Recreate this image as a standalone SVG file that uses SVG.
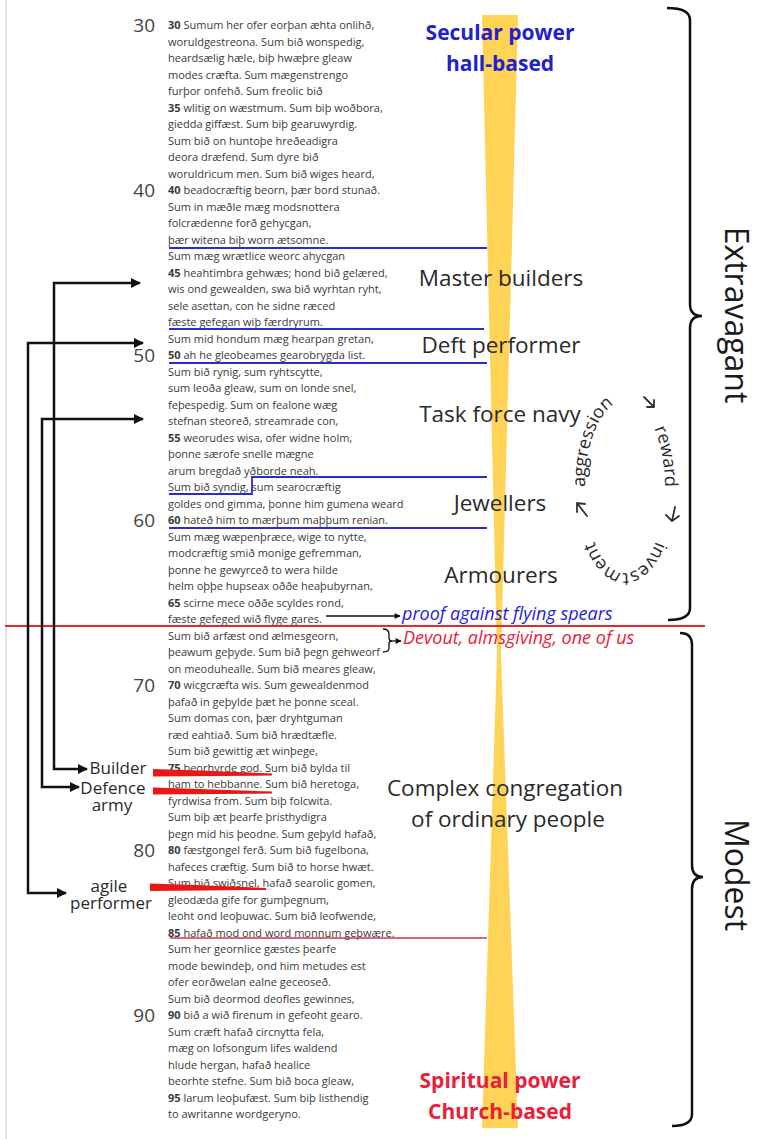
<svg xmlns="http://www.w3.org/2000/svg" width="763" height="1139" viewBox="0 0 763 1139">
<defs>
<style>
.poem{font-family:"Open Sans","Noto Sans",sans-serif;font-size:11px;fill:#3a3a3a}
.poem .n{font-weight:bold}
.num{font-family:"Open Sans","Noto Sans",sans-serif;font-size:19px;fill:#444;text-anchor:end}
.lab{font-family:"Open Sans","Noto Sans",sans-serif;font-size:22.5px;fill:#2a2a2a;text-anchor:middle}
.llab{font-family:"Open Sans","Noto Sans",sans-serif;font-size:17px;fill:#2a2a2a;text-anchor:middle}
.big{font-family:"Open Sans","Noto Sans",sans-serif;font-size:32px;fill:#1a1a1a;text-anchor:middle}
.head{font-family:"Open Sans","Noto Sans",sans-serif;font-size:21px;font-weight:bold;text-anchor:middle}
.it{font-family:"Open Sans","Noto Sans",sans-serif;font-size:18px;font-style:italic}
.cyc{font-family:"Open Sans","Noto Sans",sans-serif;font-size:18px;fill:#2a2a2a}
.conn{fill:none;stroke:#111;stroke-width:2.5}
.thin{fill:none;stroke:#111;stroke-width:1.3}
.brace{fill:none;stroke:#111;stroke-width:2.5}
.blue{fill:none;stroke:#2b2bd6;stroke-width:1.8}
.cyca{fill:none;stroke:#333;stroke-width:1.8;stroke-linecap:round;stroke-linejoin:round}
</style>
<marker id="ah" viewBox="0 0 10 10" refX="9" refY="5" markerWidth="13" markerHeight="10" markerUnits="userSpaceOnUse" orient="auto-start-reverse"><path d="M0,0 L10,5 L0,10 z" fill="#111"/></marker>
<marker id="ahs" viewBox="0 0 10 10" refX="9" refY="5" markerWidth="7" markerHeight="6" markerUnits="userSpaceOnUse" orient="auto"><path d="M0,0 L10,5 L0,10 z" fill="#111"/></marker>
<path id="ell" d="M585,487 A40,86 0 0 1 665,487 A40,86 0 0 1 585,487"/>
</defs>
<rect width="763" height="1139" fill="#fff"/>
<line x1="6" y1="0" x2="6" y2="1139" stroke="#dcdcdc" stroke-width="1.5"/>
<polygon id="band" points="482,15 518,15 501,655 518,1128 482,1128 497,655" fill="#FFCB38" opacity="0.85"/>

<g id="line-numbers">
<text class="num" x="155" y="32">30</text>
<text class="num" x="155" y="197">40</text>
<text class="num" x="155" y="362">50</text>
<text class="num" x="155" y="527">60</text>
<text class="num" x="155" y="692">70</text>
<text class="num" x="155" y="857">80</text>
<text class="num" x="155" y="1022">90</text>
</g>

<g id="poem">
<text class="poem" x="168" y="29">
<tspan x="168" y="29"><tspan class="n">30</tspan> Sumum her ofer eorþan æhta onlihð,</tspan>
<tspan x="168" y="45.5">woruldgestreona. Sum bið wonspedig,</tspan>
<tspan x="168" y="62">heardsælig hæle, biþ hwæþre gleaw</tspan>
<tspan x="168" y="78.5">modes cræfta. Sum mægenstrengo</tspan>
<tspan x="168" y="95">furþor onfehð. Sum freolic bið</tspan>
<tspan x="168" y="111.5"><tspan class="n">35</tspan> wlitig on wæstmum. Sum biþ woðbora,</tspan>
<tspan x="168" y="128">giedda giffæst. Sum biþ gearuwyrdig.</tspan>
<tspan x="168" y="144.5">Sum bið on huntoþe hreðeadigra</tspan>
<tspan x="168" y="161">deora dræfend. Sum dyre bið</tspan>
<tspan x="168" y="177.5">woruldricum men. Sum bið wiges heard,</tspan>
<tspan x="168" y="194"><tspan class="n">40</tspan> beadocræftig beorn, þær bord stunað.</tspan>
<tspan x="168" y="210.5">Sum in mæðle mæg modsnottera</tspan>
<tspan x="168" y="227">folcrædenne forð gehycgan,</tspan>
<tspan x="168" y="243.5">þær witena biþ worn ætsomne.</tspan>
<tspan x="168" y="260">Sum mæg wrætlice weorc ahycgan</tspan>
<tspan x="168" y="276.5"><tspan class="n">45</tspan> heahtimbra gehwæs; hond bið gelæred,</tspan>
<tspan x="168" y="293">wis ond gewealden, swa bið wyrhtan ryht,</tspan>
<tspan x="168" y="309.5">sele asettan, con he sidne ræced</tspan>
<tspan x="168" y="326">fæste gefegan wiþ færdryrum.</tspan>
<tspan x="168" y="342.5">Sum mid hondum mæg hearpan gretan,</tspan>
<tspan x="168" y="359"><tspan class="n">50</tspan> ah he gleobeames gearobrygda list.</tspan>
<tspan x="168" y="375.5">Sum bið rynig, sum ryhtscytte,</tspan>
<tspan x="168" y="392">sum leoða gleaw, sum on londe snel,</tspan>
<tspan x="168" y="408.5">feþespedig. Sum on fealone wæg</tspan>
<tspan x="168" y="425">stefnan steoreð, streamrade con,</tspan>
<tspan x="168" y="441.5"><tspan class="n">55</tspan> weorudes wisa, ofer widne holm,</tspan>
<tspan x="168" y="458">þonne særofe snelle mægne</tspan>
<tspan x="168" y="474.5">arum bregdað yðborde neah.</tspan>
<tspan x="168" y="491">Sum bið syndig, sum searocræftig</tspan>
<tspan x="168" y="507.5">goldes ond gimma, þonne him gumena weard</tspan>
<tspan x="168" y="524"><tspan class="n">60</tspan> hateð him to mærþum maþþum renian.</tspan>
<tspan x="168" y="540.5">Sum mæg wæpenþræce, wige to nytte,</tspan>
<tspan x="168" y="557">modcræftig smið monige gefremman,</tspan>
<tspan x="168" y="573.5">þonne he gewyrceð to wera hilde</tspan>
<tspan x="168" y="590">helm oþþe hupseax oððe heaþubyrnan,</tspan>
<tspan x="168" y="606.5"><tspan class="n">65</tspan> scirne mece oððe scyldes rond,</tspan>
<tspan x="168" y="623">fæste gefeged wið flyge gares.</tspan>
<tspan x="168" y="639.5">Sum bið arfæst ond ælmesgeorn,</tspan>
<tspan x="168" y="656">þeawum geþyde. Sum bið þegn gehweorf</tspan>
<tspan x="168" y="672.5">on meoduhealle. Sum bið meares gleaw,</tspan>
<tspan x="168" y="689"><tspan class="n">70</tspan> wicgcræfta wis. Sum gewealdenmod</tspan>
<tspan x="168" y="705.5">þafað in geþylde þæt he þonne sceal.</tspan>
<tspan x="168" y="722">Sum domas con, þær dryhtguman</tspan>
<tspan x="168" y="738.5">ræd eahtiað. Sum bið hrædtæfle.</tspan>
<tspan x="168" y="755">Sum bið gewittig æt winþege,</tspan>
<tspan x="168" y="771.5"><tspan class="n">75</tspan> beorhyrde god. Sum bið bylda til</tspan>
<tspan x="168" y="788">ham to hebbanne. Sum bið heretoga,</tspan>
<tspan x="168" y="804.5">fyrdwisa from. Sum biþ folcwita.</tspan>
<tspan x="168" y="821">Sum biþ æt þearfe þristhydigra</tspan>
<tspan x="168" y="837.5">þegn mid his þeodne. Sum geþyld hafað,</tspan>
<tspan x="168" y="854"><tspan class="n">80</tspan> fæstgongel ferð. Sum bið fugelbona,</tspan>
<tspan x="168" y="870.5">hafeces cræftig. Sum bið to horse hwæt.</tspan>
<tspan x="168" y="887">Sum bið swiðsnel, hafað searolic gomen,</tspan>
<tspan x="168" y="903.5">gleodæda gife for gumþegnum,</tspan>
<tspan x="168" y="920">leoht ond leoþuwac. Sum bið leofwende,</tspan>
<tspan x="168" y="936.5"><tspan class="n">85</tspan> hafað mod ond word monnum geþwære.</tspan>
<tspan x="168" y="953">Sum her geornlice gæstes þearfe</tspan>
<tspan x="168" y="969.5">mode bewindeþ, ond him metudes est</tspan>
<tspan x="168" y="986">ofer eorðwelan ealne geceoseð.</tspan>
<tspan x="168" y="1002.5">Sum bið deormod deofles gewinnes,</tspan>
<tspan x="168" y="1019"><tspan class="n">90</tspan> bið a wið firenum in gefeoht gearo.</tspan>
<tspan x="168" y="1035.5">Sum cræft hafað circnytta fela,</tspan>
<tspan x="168" y="1052">mæg on lofsongum lifes waldend</tspan>
<tspan x="168" y="1068.5">hlude hergan, hafað healice</tspan>
<tspan x="168" y="1085">beorhte stefne. Sum bið boca gleaw,</tspan>
<tspan x="168" y="1101.5"><tspan class="n">95</tspan> larum leoþufæst. Sum biþ listhendig</tspan>
<tspan x="168" y="1118">to awritanne wordgeryno.</tspan>
</text>
</g>

<g id="dividers">
<path class="blue" d="M169,248 H487"/>
<path class="blue" d="M169,329 H484"/>
<path class="blue" d="M169,363 H487"/>
<path class="blue" d="M169,494 H252 V477 H487"/>
<path class="blue" d="M169,528 H487"/>
<path d="M5,626 H705" stroke="#e82828" stroke-width="2.2" fill="none"/>
<path d="M170,938 H487" stroke="#c8384a" stroke-width="1.5" fill="none"/>
<g id="red-marks" fill="#e81818">
<polygon points="153,769 200,770.5 272,773.5 272,775.5 153,776.5"/>
<polygon points="153,787.5 200,789 272,791.5 272,793.5 153,794.5"/>
<polygon points="150,883.5 196,885 266,888 266,890 150,891"/>
</g>
</g>

<g id="head-secular"><text class="head" x="500" y="40" fill="#2222cc">Secular power</text><text class="head" x="500" y="71" fill="#2222cc">hall-based</text></g>
<g id="head-spiritual"><text class="head" x="500" y="1088" fill="#e8203a">Spiritual power</text><text class="head" x="500" y="1119" fill="#e8203a">Church-based</text></g>

<g id="node-master"><text class="lab" x="501" y="286">Master builders</text></g>
<g id="node-deft"><text class="lab" x="501" y="353">Deft performer</text></g>
<g id="node-navy"><text class="lab" x="500" y="422">Task force navy</text></g>
<g id="node-jewellers"><text class="lab" x="500" y="511">Jewellers</text></g>
<g id="node-armourers"><text class="lab" x="501" y="583">Armourers</text></g>
<g id="node-congregation"><text class="lab" x="505" y="796">Complex congregation</text><text class="lab" x="508" y="827">of ordinary people</text></g>

<g id="node-builder"><text class="llab" x="118" y="774">Builder</text></g>
<g id="node-defence"><text class="llab" x="113" y="794">Defence</text><text class="llab" x="112" y="811">army</text></g>
<g id="node-agile"><text class="llab" x="109" y="892">agile</text><text class="llab" x="111" y="909">performer</text></g>

<g id="node-proof"><text class="it" x="402" y="620" fill="#2222dd">proof against flying spears</text></g>
<g id="node-devout"><text class="it" x="403" y="644" fill="#e8203a">Devout, almsgiving, one of us</text></g>

<g id="node-extravagant"><text class="big" transform="translate(725,315) rotate(90)">Extravagant</text></g>
<g id="node-modest"><text class="big" transform="translate(725,875) rotate(90)">Modest</text></g>

<g id="cycle">
<text class="cyc"><textPath href="#ell" startOffset="0">aggression</textPath></text>
<text class="cyc"><textPath href="#ell" startOffset="50%" text-anchor="end">reward</textPath></text>
<text class="cyc"><textPath href="#ell" startOffset="75%" text-anchor="middle">investment</textPath></text>
<path class="cyca" d="M644,397 L654,407 M647,407 L654,407 L654,400"/>
<path class="cyca" d="M675,507 L672,521 M666,515 L672,521 L679,516"/>
<path class="cyca" d="M587,516 L577,503 M577,512 L577,503 L585,504"/>
</g>

<g id="connectors">
<path class="conn" d="M140,283 H54 V769 H87" marker-start="url(#ah)" marker-end="url(#ah)"/>
<path class="conn" d="M143,343 H28 V893 H66" marker-start="url(#ah)" marker-end="url(#ah)"/>
<path class="conn" d="M143,419 H42 V787 H79" marker-start="url(#ah)" marker-end="url(#ah)"/>
<path class="thin" d="M326,616 H400" marker-end="url(#ahs)"/>
<path class="thin" d="M383,629 Q389,629 389,634 V638 Q389,641 392,641 Q389,641 389,644 V648 Q389,652 383,652"/>
<path class="thin" d="M392,641 H401" marker-end="url(#ahs)"/>
<path class="brace" d="M667,8 Q690,8 690,20 V304 Q690,316 702,316 Q690,316 690,328 V608 Q690,620 668,620"/>
<path class="brace" d="M680,633 Q692,633 692,645 V865 Q692,877 703,877 Q692,877 692,889 V1114 Q692,1126 672,1126"/>
</g>
</svg>
